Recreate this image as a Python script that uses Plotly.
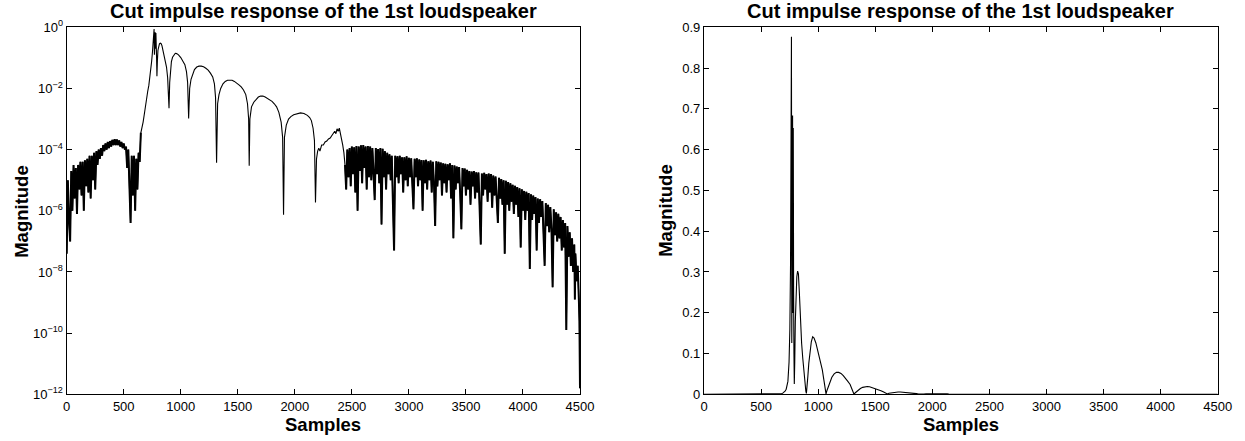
import numpy as np
import plotly.graph_objects as go

# ---------------- data (magnitudes stored as log10) ----------------
head_samples = [0, 10, 20, 30, 40, 50, 60, 70, 80, 90, 100, 110, 120, 130, 140, 150, 160, 170, 180, 190,
                200, 210, 220, 230, 240, 250, 260, 270, 280, 290, 300, 310, 320, 330, 340, 350, 360, 370,
                380, 390, 400, 410, 420, 430, 440, 450, 460, 470, 480, 490, 500, 510, 520, 530, 540, 550,
                560, 570, 580, 590, 600, 610, 620, 630, 640]
head_log10 = [-7.4, -5.0, -6.3, -7.0, -4.7, -6.0, -4.5, -5.6, -4.6, -6.1, -4.5, -5.3, -4.4, -5.5, -4.4, -6.0,
              -4.35, -5.2, -4.3, -5.4, -4.2, -5.6, -4.2, -5.0, -4.1, -5.3, -4.05, -4.5, -4.0, -4.3, -3.95, -4.2,
              -3.85, -4.05, -3.8, -4.0, -3.75, -3.95, -3.72, -3.9, -3.68, -3.85, -3.66, -3.85, -3.67, -3.85,
              -3.7, -3.9, -3.75, -3.95, -3.8, -4.0, -3.9, -4.6, -4.0, -5.2, -6.4, -4.2, -5.5, -4.2, -6.0,
              -4.3, -5.3, -4.1, -4.4]

lobe_samples = [650, 660, 670, 680, 690, 700, 710, 720, 735, 745, 752, 758, 762, 766, 769, 773, 776, 779,
                782, 785, 788, 791, 795, 800, 806, 813, 820, 827, 835, 845, 855, 865, 875, 885, 892, 897,
                903, 910, 918, 928, 940, 952, 964, 980, 1000, 1020, 1036, 1050, 1060, 1069, 1078, 1090,
                1105, 1120, 1140, 1160, 1180, 1200, 1220, 1240, 1260, 1280, 1295, 1305, 1314, 1323, 1335,
                1350, 1370, 1390, 1410, 1430, 1450, 1470, 1490, 1510, 1530, 1550, 1570, 1585, 1595, 1600,
                1606, 1620, 1640, 1660, 1680, 1700, 1720, 1740, 1760, 1780, 1800, 1820, 1840, 1860, 1880,
                1893, 1901, 1909, 1925, 1945, 1965, 1990, 2020, 2050, 2080, 2110, 2130, 2145, 2160, 2172,
                2181, 2190, 2200, 2210, 2220, 2235, 2250, 2265, 2280, 2295, 2310, 2320, 2335, 2350, 2360,
                2370, 2380, 2390, 2400, 2410, 2420, 2430, 2440]
lobe_log10 = [-3.45, -3.3, -3.1, -2.85, -2.55, -2.3, -2.1, -1.9, -1.5, -1.1, -0.8, -0.5, -0.25, -0.057,
              -0.9, -0.45, -0.165, -0.7, -0.185, -0.6, -1.0, -1.6, -1.1, -0.75, -0.6, -0.54, -0.52, -0.53,
              -0.6, -0.75, -0.9, -1.05, -1.3, -1.65, -2.1, -2.65, -1.8, -1.35, -1.12, -0.98, -0.89, -0.85,
              -0.86, -0.9, -0.99, -1.1, -1.22, -1.45, -1.8, -2.98, -2.0, -1.7, -1.5, -1.38, -1.3, -1.27,
              -1.27, -1.29, -1.34, -1.4, -1.5, -1.62, -1.85, -2.3, -4.43, -2.5, -2.2, -2.0, -1.85, -1.77,
              -1.73, -1.72, -1.73, -1.77, -1.82, -1.88, -1.95, -2.05, -2.2, -2.5, -3.0, -4.53, -3.0, -2.6,
              -2.45, -2.35, -2.28, -2.25, -2.25, -2.28, -2.32, -2.37, -2.42, -2.5, -2.6, -2.78, -3.1, -3.6,
              -6.13, -3.6, -3.2, -3.0, -2.92, -2.86, -2.82, -2.8, -2.82, -2.88, -2.95, -3.05, -3.3, -3.7,
              -5.73, -4.3, -4.05, -3.95, -4.05, -3.85, -3.85, -3.75, -3.72, -3.65, -3.62, -3.55, -3.48,
              -3.4, -3.48, -3.32, -3.4, -3.3, -3.45, -3.6, -3.85, -4.1, -4.5]

tail_samples = [2450, 2460, 2470, 2480, 2490, 2500, 2510, 2520, 2530, 2540, 2550, 2560, 2570, 2580, 2590,
                2600, 2610, 2620, 2630, 2640, 2650, 2660, 2670, 2680, 2690, 2700, 2710, 2720, 2730, 2740,
                2750, 2760, 2770, 2780, 2790, 2800, 2810, 2820, 2830, 2840, 2850, 2860, 2870, 2880, 2890,
                2900, 2910, 2920, 2930, 2940, 2950, 2960, 2970, 2980, 2990, 3000, 3010, 3020, 3030, 3040,
                3050, 3060, 3070, 3080, 3090, 3100, 3110, 3120, 3130, 3140, 3150, 3160, 3170, 3180, 3190,
                3200, 3210, 3220, 3230, 3240, 3250, 3260, 3270, 3280, 3290, 3300, 3310, 3320, 3330, 3340,
                3350, 3360, 3370, 3380, 3390, 3400, 3410, 3420, 3430, 3440, 3450, 3460, 3470, 3480, 3490,
                3500, 3510, 3520, 3530, 3540, 3550, 3560, 3570, 3580, 3590, 3600, 3610, 3620, 3630, 3640,
                3650, 3660, 3670, 3680, 3690, 3700, 3710, 3720, 3730, 3740, 3750, 3760, 3770, 3780, 3790,
                3800, 3810, 3820, 3830, 3840, 3850, 3860, 3870, 3880, 3890, 3900, 3910, 3920, 3930, 3940,
                3950, 3960, 3970, 3980, 3990, 4000, 4010, 4020, 4030, 4040, 4050, 4060, 4070, 4080, 4090,
                4100, 4110, 4120, 4130, 4140, 4150, 4160, 4170, 4180, 4190, 4200, 4210, 4220, 4230, 4240,
                4250, 4260, 4270, 4280, 4290, 4300, 4310, 4320, 4330, 4340, 4350, 4360, 4370, 4380, 4390,
                4400, 4410, 4420, 4430, 4440, 4450, 4455, 4460, 4470, 4480, 4490, 4495, 4500]
tail_log10 = [-5.3, -4.0, -4.9, -3.95, -5.2, -3.9, -4.8, -3.92, -5.4, -3.88, -6.0, -3.9, -4.7, -3.86, -5.1,
              -3.85, -4.6, -3.9, -5.3, -3.88, -4.9, -3.9, -5.0, -3.95, -4.7, -5.65, -3.95, -4.8, -3.98, -5.1,
              -3.95, -6.45, -3.97, -4.9, -4.05, -5.3, -4.1, -4.8, -4.15, -5.0, -4.2, -5.6, -7.3, -4.2, -4.9,
              -4.22, -5.1, -4.2, -4.8, -4.25, -5.4, -4.25, -5.0, -4.22, -5.2, -4.27, -4.9, -4.28, -5.1, -5.95,
              -4.3, -4.9, -4.28, -5.2, -4.32, -5.0, -4.34, -6.0, -4.35, -5.1, -4.33, -5.3, -4.38, -5.0, -4.36,
              -5.4, -4.4, -5.1, -6.5, -4.38, -5.2, -4.4, -5.0, -4.42, -5.5, -4.45, -5.1, -4.46, -5.4, -4.48,
              -5.0, -4.45, -5.6, -4.5, -6.9, -4.52, -5.3, -4.55, -5.1, -4.57, -5.5, -6.6, -4.6, -5.2, -4.62,
              -5.5, -4.66, -5.3, -4.7, -5.8, -4.72, -5.2, -4.7, -5.6, -4.74, -5.4, -4.75, -5.9, -7.1, -4.78,
              -5.5, -4.76, -5.3, -4.8, -5.7, -4.78, -5.4, -4.8, -5.9, -4.85, -5.5, -4.88, -5.7, -6.4, -4.92,
              -5.6, -4.96, -5.8, -5.0, -7.4, -5.02, -5.8, -5.06, -6.0, -5.1, -5.7, -5.15, -6.1, -5.18, -5.8,
              -5.22, -6.2, -5.26, -7.2, -5.3, -6.0, -5.35, -6.3, -5.38, -6.0, -5.42, -7.9, -5.46, -6.3, -5.5,
              -6.1, -5.55, -7.3, -5.6, -6.4, -5.62, -6.2, -5.68, -6.6, -7.8, -5.75, -6.5, -5.8, -6.7, -5.88,
              -6.6, -8.5, -5.95, -6.8, -6.05, -7.0, -6.1, -6.9, -6.2, -7.3, -6.3, -7.2, -6.4, -9.9, -6.5,
              -7.5, -6.7, -7.8, -6.9, -8.0, -7.1, -8.9, -7.4, -8.3, -7.8, -8.9, -9.6, -11.8]

x_tick_values = [0, 500, 1000, 1500, 2000, 2500, 3000, 3500, 4000, 4500]
log_tick_exponents = [0, -2, -4, -6, -8, -10, -12]
lin_tick_values = [0, 0.1, 0.2, 0.3, 0.4, 0.5, 0.6, 0.7, 0.8, 0.9]
lin_tick_labels = ["0", "0.1", "0.2", "0.3", "0.4", "0.5", "0.6", "0.7", "0.8", "0.9"]

title_text = "Cut impulse response of the 1st loudspeaker"
x_label = "Samples"
y_label = "Magnitude"

# ---------------- build ----------------
samples = np.array(head_samples + lobe_samples + tail_samples, dtype=float)
magnitude = 10.0 ** np.array(head_log10 + lobe_log10 + tail_log10)
head_x = np.array(head_samples + lobe_samples[:1], dtype=float)
head_y = 10.0 ** np.array(head_log10 + lobe_log10[:1])
tail_x = np.array(lobe_samples[-1:] + tail_samples, dtype=float)
tail_y = 10.0 ** np.array(lobe_log10[-1:] + tail_log10)

W, H = 1245, 441
FONT = "Liberation Sans, Arial, Helvetica, sans-serif"

fig = go.Figure()
fig.add_trace(go.Scatter(x=samples, y=magnitude, mode="lines",
                         line=dict(color="black", width=1.1), xaxis="x", yaxis="y", showlegend=False))
# the noisy stretches are drawn heavier, as the dense band in the reference
fig.add_trace(go.Scatter(x=head_x, y=head_y, mode="lines",
                         line=dict(color="black", width=2), xaxis="x", yaxis="y", showlegend=False))
fig.add_trace(go.Scatter(x=tail_x, y=tail_y, mode="lines",
                         line=dict(color="black", width=2), xaxis="x", yaxis="y", showlegend=False))
fig.add_trace(go.Scatter(x=samples, y=magnitude, mode="lines",
                         line=dict(color="black", width=1.1), xaxis="x2", yaxis="y2", showlegend=False))

common = dict(showline=True, linecolor="black", linewidth=1.3, mirror="ticks", ticks="inside",
              ticklen=5, tickwidth=1, tickcolor="black", showgrid=False, zeroline=False,
              automargin=False, tickfont=dict(family=FONT, size=13, color="black"))

L0, L1 = 66.7 / W, 580 / W
R0, R1 = 704 / W, 1217.7 / W
B0, B1 = (H - 394.3) / H, (H - 27.3) / H

fig.update_layout(
    template="none",
    width=W, height=H, margin=dict(l=0, r=0, t=0, b=0, autoexpand=False),
    paper_bgcolor="white", plot_bgcolor="white",
    xaxis=dict(domain=[L0, L1], anchor="y", range=[0, 4500], tickvals=x_tick_values, **common),
    yaxis=dict(domain=[B0, B1], anchor="x", type="log", range=[-12, 0],
               tickvals=[10.0 ** e for e in log_tick_exponents],
               ticktext=["10<sup>%s</sup>" % (str(e).replace("-", "\u2212")) for e in log_tick_exponents],
               **common),
    xaxis2=dict(domain=[R0, R1], anchor="y2", range=[0, 4500], tickvals=x_tick_values, **common),
    yaxis2=dict(domain=[B0, B1], anchor="x2", range=[0, 0.9], tickvals=lin_tick_values,
                ticktext=lin_tick_labels, **common),
)

ann = []
for (a, b), ylx in (((L0, L1), 22 / W), ((R0, R1), 666 / W)):
    ann.append(dict(text="<b>%s</b>" % title_text, x=(a + b) / 2, y=(H - 11) / H, xref="paper", yref="paper",
                    xanchor="center", yanchor="middle", showarrow=False,
                    font=dict(family=FONT, size=20, color="black")))
    ann.append(dict(text="<b>%s</b>" % x_label, x=(a + b) / 2, y=(H - 424) / H, xref="paper", yref="paper",
                    xanchor="center", yanchor="middle", showarrow=False,
                    font=dict(family=FONT, size=18.5, color="black")))
    ann.append(dict(text="<b>%s</b>" % y_label, x=ylx, y=(B0 + B1) / 2, xref="paper", yref="paper",
                    xanchor="center", yanchor="middle", showarrow=False, textangle=-90,
                    font=dict(family=FONT, size=18.5, color="black")))
fig.update_layout(annotations=ann)

fig.write_html("out.html", config={"displayModeBar": False},
               post_script="document.body.style.margin='0px';")
